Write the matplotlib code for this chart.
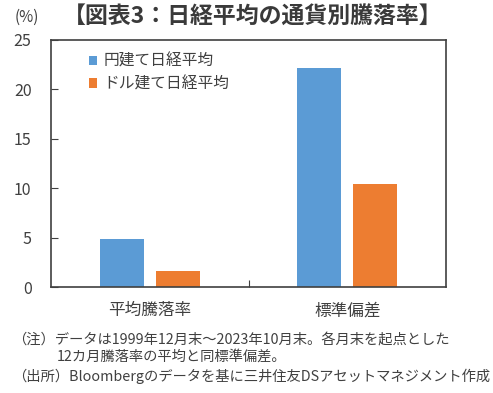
import matplotlib
matplotlib.use("Agg")
import matplotlib.pyplot as plt
import numpy as np

plt.rcParams['font.family'] = ['Noto Sans CJK JP', 'DejaVu Sans']

categories = ["平均騰落率", "標準偏差"]
series_names = ["円建て日経平均", "ドル建て日経平均"]
yen_values = [4.85, 22.2]
usd_values = [1.65, 10.4]
yticks = [0, 5, 10, 15, 20, 25]

colors = ["#5B9BD5", "#ED7D31"]
txt = "#404040"

fig = plt.figure(figsize=(4.93, 3.93), dpi=100)
ax = fig.add_axes([51/493, 1-287/393, 395/493, (287-40)/393])

x = np.arange(len(categories))
w = 0.223
ax.bar(x - 0.141, yen_values, w, color=colors[0], label=series_names[0])
ax.bar(x + 0.141, usd_values, w, color=colors[1], label=series_names[1])

ax.set_xlim(-0.5, 1.5)
ax.set_ylim(0, 25)
ax.set_yticks(yticks)
ax.set_yticklabels([str(t) for t in yticks], fontsize=11.5, color=txt)
ax.set_xticks([0.5], minor=False)
ax.set_xticklabels([""])
ax.tick_params(axis='y', direction='in', length=5, color=txt, pad=14)
ax.tick_params(axis='x', direction='in', length=5, color=txt)
for s in ax.spines.values():
    s.set_color(txt)
    s.set_linewidth(1.2)
for i, c in enumerate(categories):
    ax.text(i, -2.4, c, ha='center', va='center', fontsize=12, color=txt)

leg = ax.legend(loc='upper left', bbox_to_anchor=(0.06, 1.005), frameon=False,
                fontsize=11.3, handlelength=0.55, handleheight=0.55,
                handletextpad=0.4, labelspacing=0.35, labelcolor=txt)

fig.text(15/493, 1-17/393, "(%)", fontsize=11, color=txt, va='center', ha='left')
fig.text(253/493, 1-17/393, "【図表3：日経平均の通貨別騰落率】", fontsize=16.5,
         fontweight='bold', color="#3a3a3a", va='center', ha='center')

fs = 10.3
fig.text(12/493, 1-340/393, "（注）データは1999年12月末～2023年10月末。各月末を起点とした",
         fontsize=fs, color=txt, va='center', ha='left')
fig.text(57/493, 1-357/393, "12カ月騰落率の平均と同標準偏差。",
         fontsize=fs, color=txt, va='center', ha='left')
fig.text(12/493, 1-376/393, "（出所）Bloombergのデータを基に三井住友DSアセットマネジメント作成",
         fontsize=fs, color=txt, va='center', ha='left')

fig.savefig("out.png", dpi=100)
